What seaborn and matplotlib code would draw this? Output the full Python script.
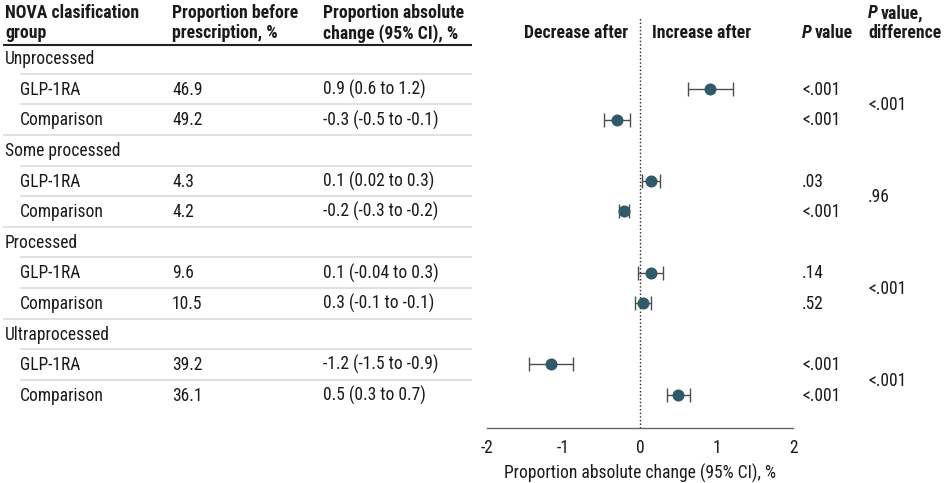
import matplotlib
matplotlib.use("Agg")
import matplotlib.pyplot as plt
import seaborn as sns
import pandas as pd
from matplotlib import font_manager

# ---------------- data ----------------
groups = ["Unprocessed", "Some processed", "Processed", "Ultraprocessed"]
subgroups = ["GLP-1RA", "Comparison"]
before = ["46.9", "49.2", "4.3", "4.2", "9.6", "10.5", "39.2", "36.1"]
change_labels = ["0.9 (0.6 to 1.2)", "-0.3 (-0.5 to -0.1)",
                 "0.1 (0.02 to 0.3)", "-0.2 (-0.3 to -0.2)",
                 "0.1 (-0.04 to 0.3)", "0.3 (-0.1 to -0.1)",
                 "-1.2 (-1.5 to -0.9)", "0.5 (0.3 to 0.7)"]
est = [0.91, -0.30, 0.14, -0.21, 0.14, 0.04, -1.16, 0.50]
lo = [0.63, -0.47, 0.03, -0.27, -0.03, -0.06, -1.45, 0.35]
hi = [1.21, -0.13, 0.26, -0.15, 0.30, 0.14, -0.88, 0.66]
pvals = ["<.001", "<.001", ".03", "<.001", ".14", ".52", "<.001", "<.001"]
pdiff = ["<.001", ".96", "<.001", "<.001"]
xticks = [-2, -1, 0, 1, 2]

# ---------------- style ----------------
sns.set_theme(style="white")
names = {f.name for f in font_manager.fontManager.ttflist}
FONT = "DejaVu Sans"
for cand in ["Roboto Condensed", "Liberation Sans Narrow", "Roboto", "Liberation Sans"]:
    if cand in names:
        FONT = cand
        break
plt.rcParams["font.family"] = [FONT, "DejaVu Sans"]
plt.rcParams["axes.unicode_minus"] = False

TXT = "#1a1a1a"
DOT = "#2e5a6a"

fig = plt.figure(figsize=(9.45, 4.83), dpi=100)
bg = fig.add_axes([0, 0, 1, 1])
bg.set_xlim(0, 945)
bg.set_ylim(483, 0)
bg.axis("off")
renderer = fig.canvas.get_renderer()


def width_px(s, size, weight="normal", style="normal"):
    t = bg.text(0, 0, s, fontsize=size, weight=weight, style=style)
    w = t.get_window_extent(renderer).width
    t.remove()
    return w


body_fs = 10 * 90 / width_px("Unprocessed", 10)
head_fs = 10 * 126 / width_px("Proportion before", 10, "semibold")


def yc(r):
    return 58.4 + 30.6 * r


BOFF = 5.8  # baseline offset from row centre

# ---------------- header ----------------
hk = dict(fontsize=head_fs, weight="semibold", color=TXT, va="baseline")
bg.text(5, 18.5, "NOVA clasification", **hk)
bg.text(5, 38.5, "group", **hk)
bg.text(172, 18.5, "Proportion before", **hk)
bg.text(172, 38.5, "prescription, %", **hk)
bg.text(323, 18.5, "Proportion absolute", **hk)
bg.text(323, 38.5, "change (95% CI), %", **hk)
bg.text(628, 38, "Decrease after", ha="right", **hk)
bg.text(652, 38, "Increase after", **hk)


def p_header(x, y, rest):
    t = bg.text(x, y, "P", style="italic", **hk)
    w = t.get_window_extent(renderer).width
    bg.text(x + w + 3.5, y, rest, **hk)


p_header(802, 38, "value")
p_header(868, 18, "value,")
bg.text(868, 38, "difference", **hk)

bg.plot([3, 472], [45, 45], color="#222222", lw=1.5, solid_capstyle="butt")

# ---------------- table body ----------------
bk = dict(fontsize=body_fs, color=TXT, va="baseline")
for g, gname in enumerate(groups):
    r0 = 3 * g
    bg.text(5, yc(r0) + BOFF, gname, **bk)
    for s, sname in enumerate(subgroups):
        i = 2 * g + s
        r = r0 + 1 + s
        bg.text(20, yc(r) + BOFF, sname, **bk)
        bg.text(172, yc(r) + BOFF, before[i], **bk)
        bg.text(323, yc(r) + BOFF, change_labels[i], **bk)
        bg.text(802, yc(r) + BOFF, pvals[i], **bk)
    bg.text(868, yc(r0 + 1.5) + BOFF, pdiff[g], **bk)
    # separator lines
    for k in range(3):
        r = r0 + k
        if r == 11:
            continue
        yline = yc(r + 0.5)
        x0 = 3 if k == 2 else 20
        bg.plot([x0, 472], [yline, yline], color="#d9d9d9", lw=1.1,
                solid_capstyle="butt")

# ---------------- forest plot ----------------
rows = [3 * g + 1 + s for g in range(len(groups)) for s in range(2)]
df = pd.DataFrame({"est": est, "lo": lo, "hi": hi, "row": rows})

ax = fig.add_axes([487 / 945, (483 - 428) / 483, 306 / 945, (428 - 18) / 483])
ax.patch.set_alpha(0)
ax.errorbar(df["est"], df["row"],
            xerr=[df["est"] - df["lo"], df["hi"] - df["est"]],
            fmt="none", ecolor="#4d4d4d", elinewidth=1.0, capsize=4.7,
            capthick=1.0, zorder=3)
sns.scatterplot(data=df, x="est", y="row", ax=ax, s=75, color=DOT,
                edgecolor=DOT, linewidth=0, zorder=4, legend=False)
ax.axvline(0, color="#222222", lw=1.0, ls=(0, (1, 1.6)), zorder=1)
ax.set_xlim(-2, 2)
ax.set_ylim((428 - 58.4) / 30.6, (18 - 58.4) / 30.6)
ax.set_yticks([])
ax.set_ylabel("")
ax.set_xticks(xticks)
ax.set_xticklabels([str(v) for v in xticks])
ax.tick_params(axis="x", direction="in", length=3.5, width=1.0,
               color="#666666", pad=8, labelsize=body_fs, labelcolor=TXT)
for side in ["left", "right", "top"]:
    ax.spines[side].set_visible(False)
ax.spines["bottom"].set_color("#666666")
ax.spines["bottom"].set_linewidth(1.0)
ax.set_xlabel("Proportion absolute change (95% CI), %", fontsize=body_fs,
              color=TXT, labelpad=5)

fig.savefig("out.png", dpi=100)
